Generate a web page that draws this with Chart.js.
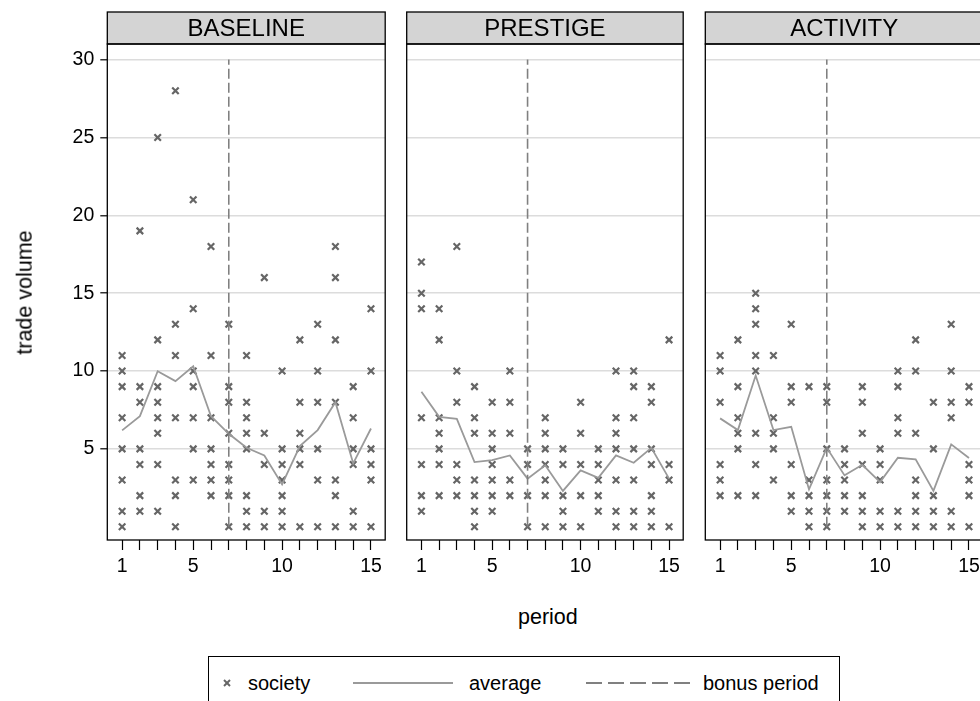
<!DOCTYPE html>
<html>
<head>
<meta charset="utf-8">
<script src="https://cdn.jsdelivr.net/npm/chart.js@4/dist/chart.umd.min.js"></script>
<style>
  body { margin: 0; background: #fff; font-family: "Liberation Sans", Arial, sans-serif; }
  #page { position: relative; width: 980px; height: 701px; overflow: hidden; background: #fff; }
  canvas { position: absolute; top: 0; }
  .axis-title { position: absolute; font-size: 21.5px; color: #000; white-space: nowrap; }
  #legend { position: absolute; left: 208px; top: 656px; width: 632px; height: 60px; border: 1px solid #000; box-sizing: border-box; }
  #legend span { position: absolute; top: 15px; font-size: 20px; color: #000; white-space: nowrap; }
  #legend svg { position: absolute; top: 0; left: 0; }
</style>
</head>
<body>
<div id="page">
  <canvas id="chart_baseline"></canvas>
  <canvas id="chart_prestige"></canvas>
  <canvas id="chart_activity"></canvas>
  <div class="axis-title" id="ytitle">trade volume</div>
  <div class="axis-title" id="xtitle">period</div>
  <div id="legend">
    <svg width="632" height="60">
      <line x1="15" y1="23" x2="21" y2="29" stroke="#666" stroke-width="2"/>
      <line x1="15" y1="29" x2="21" y2="23" stroke="#666" stroke-width="2"/>
      <line x1="144" y1="26" x2="244" y2="26" stroke="#9a9a9a" stroke-width="2"/>
      <line x1="377" y1="26" x2="481" y2="26" stroke="#808080" stroke-width="2" stroke-dasharray="16 6"/>
    </svg>
    <span style="left:39px">society</span>
    <span style="left:260px">average</span>
    <span style="left:494px">bonus period</span>
  </div>
</div>
<script>
// periods on the x axis and the labelled ones
const periods = [1, 2, 3, 4, 5, 6, 7, 8, 9, 10, 11, 12, 13, 14, 15];
const periodLabels = [1, 5, 10, 15];
const volumeTicks = [5, 10, 15, 20, 25, 30];
const bonusPeriod = 7;
const bonusSpan = [0, 30];

// trade volume of each society, one list per period
const baselineSociety = [
  [0, 1, 3, 5, 7, 9, 10, 11],
  [1, 2, 4, 5, 8, 9, 19],
  [1, 4, 6, 7, 8, 9, 12, 25],
  [0, 2, 3, 7, 11, 13, 28],
  [3, 5, 7, 9, 10, 14, 21],
  [2, 3, 4, 5, 7, 11, 18],
  [0, 2, 3, 4, 6, 8, 9, 13],
  [0, 1, 2, 5, 6, 7, 8, 11],
  [0, 1, 4, 6, 16],
  [0, 1, 2, 3, 4, 5, 10],
  [0, 4, 5, 6, 8, 12],
  [0, 3, 5, 8, 10, 13],
  [0, 2, 3, 8, 12, 16, 18],
  [0, 1, 4, 5, 7, 9],
  [0, 3, 4, 5, 10, 14]
];
const prestigeSociety = [
  [1, 2, 4, 7, 14, 15, 17],
  [2, 4, 5, 6, 7, 12, 14],
  [2, 3, 4, 8, 10, 18],
  [0, 1, 2, 3, 6, 7, 9],
  [1, 2, 3, 4, 5, 6, 8],
  [2, 3, 6, 8, 10],
  [0, 2, 4, 5],
  [0, 2, 3, 4, 5, 6, 7],
  [0, 1, 2, 4, 5],
  [0, 2, 4, 6, 8],
  [1, 2, 3, 4, 5],
  [0, 1, 3, 5, 6, 7, 10],
  [0, 1, 3, 5, 7, 9, 10],
  [0, 1, 2, 4, 5, 8, 9],
  [0, 3, 4, 12]
];
const activitySociety = [
  [2, 3, 4, 8, 10, 11],
  [2, 5, 6, 7, 9, 12],
  [2, 4, 6, 10, 11, 13, 14, 15],
  [3, 5, 6, 7, 11],
  [1, 2, 4, 8, 9, 13],
  [0, 1, 2, 3, 9],
  [0, 1, 2, 3, 5, 8, 9],
  [1, 2, 3, 4, 5],
  [0, 1, 2, 4, 6, 8, 9],
  [0, 1, 3, 4, 5],
  [0, 1, 6, 7, 9, 10],
  [0, 1, 2, 3, 6, 10, 12],
  [0, 1, 2, 5, 8],
  [0, 1, 7, 8, 10, 13],
  [0, 2, 3, 4, 8, 9]
];

// average trade volume per period
const baselineAverage = [6.19, 7.10, 9.99, 9.35, 10.31, 7.10, 5.97, 5.07, 4.58, 2.72, 5.18, 6.21, 8.0, 4.07, 6.31];
const prestigeAverage = [8.67, 7.06, 6.93, 4.15, 4.28, 4.58, 3.09, 3.95, 2.30, 3.62, 3.14, 4.58, 4.11, 5.07, 3.09];
const activityAverage = [6.96, 6.21, 9.71, 6.21, 6.42, 2.40, 5.07, 3.30, 3.98, 2.87, 4.43, 4.33, 2.30, 5.29, 4.41];

const FONT = '"Liberation Sans", Arial, sans-serif';
const CANVAS_H = 600;

const panels = [
  { id: 'chart_baseline', title: 'BASELINE', society: baselineSociety, average: baselineAverage,
    left: 0, width: 392, axisWidth: 107.3, padRight: 3.7, showY: true },
  { id: 'chart_prestige', title: 'PRESTIGE', society: prestigeSociety, average: prestigeAverage,
    left: 392, width: 298, axisWidth: 14.7, padRight: 2.7, showY: false },
  { id: 'chart_activity', title: 'ACTIVITY', society: activitySociety, average: activityAverage,
    left: 690, width: 300, axisWidth: 15.3, padRight: 4, showY: false }
];

// grey strip with the panel name, plus the black box round the plot region
const panelFrame = {
  id: 'panelFrame',
  afterDraw(chart, args, opts) {
    const { ctx, chartArea } = chart;
    const w = chartArea.right - chartArea.left;
    ctx.save();
    ctx.fillStyle = '#d4d4d4';
    ctx.fillRect(chartArea.left, 12, w, chartArea.top - 12);
    ctx.strokeStyle = '#000';
    ctx.lineWidth = 1.3;
    ctx.strokeRect(chartArea.left, 12, w, chartArea.top - 12);
    ctx.strokeRect(chartArea.left, chartArea.top, w, chartArea.bottom - chartArea.top);
    ctx.fillStyle = '#000';
    ctx.font = '24px ' + FONT;
    ctx.textAlign = 'center';
    ctx.textBaseline = 'middle';
    ctx.fillText(opts.title, chartArea.left + w / 2, (12 + chartArea.top) / 2 + 1);
    ctx.restore();
  }
};

panels.forEach(panel => {
  const canvas = document.getElementById(panel.id);
  canvas.width = panel.width;
  canvas.height = CANVAS_H;
  canvas.style.left = panel.left + 'px';
  canvas.style.width = panel.width + 'px';
  canvas.style.height = CANVAS_H + 'px';

  const societyPoints = periods.flatMap((p, i) => panel.society[i].map(v => ({ x: p, y: v })));
  const averagePoints = periods.map((p, i) => ({ x: p, y: panel.average[i] }));
  const bonusPoints = bonusSpan.map(v => ({ x: bonusPeriod, y: v }));

  new Chart(canvas.getContext('2d'), {
    type: 'scatter',
    data: {
      datasets: [
        {
          label: 'bonus period',
          data: bonusPoints,
          showLine: true,
          borderColor: '#808080',
          borderWidth: 1.6,
          borderDash: [10, 4],
          pointRadius: 0,
          order: 0
        },
        {
          label: 'average',
          data: averagePoints,
          showLine: true,
          borderColor: '#9a9a9a',
          borderWidth: 1.8,
          pointRadius: 0,
          order: 1
        },
        {
          label: 'society',
          data: societyPoints,
          pointStyle: 'crossRot',
          pointRadius: 4.6,
          borderColor: '#666',
          borderWidth: 2.2,
          order: 2
        }
      ]
    },
    options: {
      responsive: false,
      animation: false,
      layout: { padding: { top: 44, right: panel.padRight, left: 0, bottom: 0 } },
      plugins: {
        legend: { display: false },
        tooltip: { enabled: false },
        panelFrame: { title: panel.title }
      },
      scales: {
        x: {
          type: 'linear',
          min: 0.166,
          max: 15.8,
          afterBuildTicks: scale => { scale.ticks = periods.map(p => ({ value: p })); },
          afterFit: scale => { scale.height = CANVAS_H - 540; },
          border: { display: false },
          grid: { drawOnChartArea: false, tickLength: 10, tickColor: '#000', tickWidth: 1.2 },
          ticks: {
            autoSkip: false,
            maxRotation: 0,
            padding: 5,
            color: '#000',
            font: { family: FONT, size: 19.5 },
            callback: v => periodLabels.includes(v) ? String(v) : ''
          }
        },
        y: {
          type: 'linear',
          min: -0.85,
          max: 31,
          afterBuildTicks: scale => { scale.ticks = volumeTicks.map(v => ({ value: v })); },
          afterFit: scale => { scale.width = panel.axisWidth; },
          border: { display: false },
          grid: {
            color: '#dcdcdc',
            lineWidth: 1.6,
            drawTicks: panel.showY,
            tickLength: 7,
            tickColor: '#000',
            tickWidth: 1.2
          },
          ticks: {
            display: panel.showY,
            padding: 6,
            color: '#000',
            font: { family: FONT, size: 19.5 }
          }
        }
      }
    },
    plugins: [panelFrame]
  });
});

// axis titles
const ytitle = document.getElementById('ytitle');
ytitle.style.left = (25 - ytitle.offsetWidth / 2) + 'px';
ytitle.style.top = (292 - ytitle.offsetHeight / 2) + 'px';
ytitle.style.transform = 'rotate(-90deg)';
const xtitle = document.getElementById('xtitle');
xtitle.style.left = (548 - xtitle.offsetWidth / 2) + 'px';
xtitle.style.top = (617 - xtitle.offsetHeight / 2) + 'px';
</script>
</body>
</html>
